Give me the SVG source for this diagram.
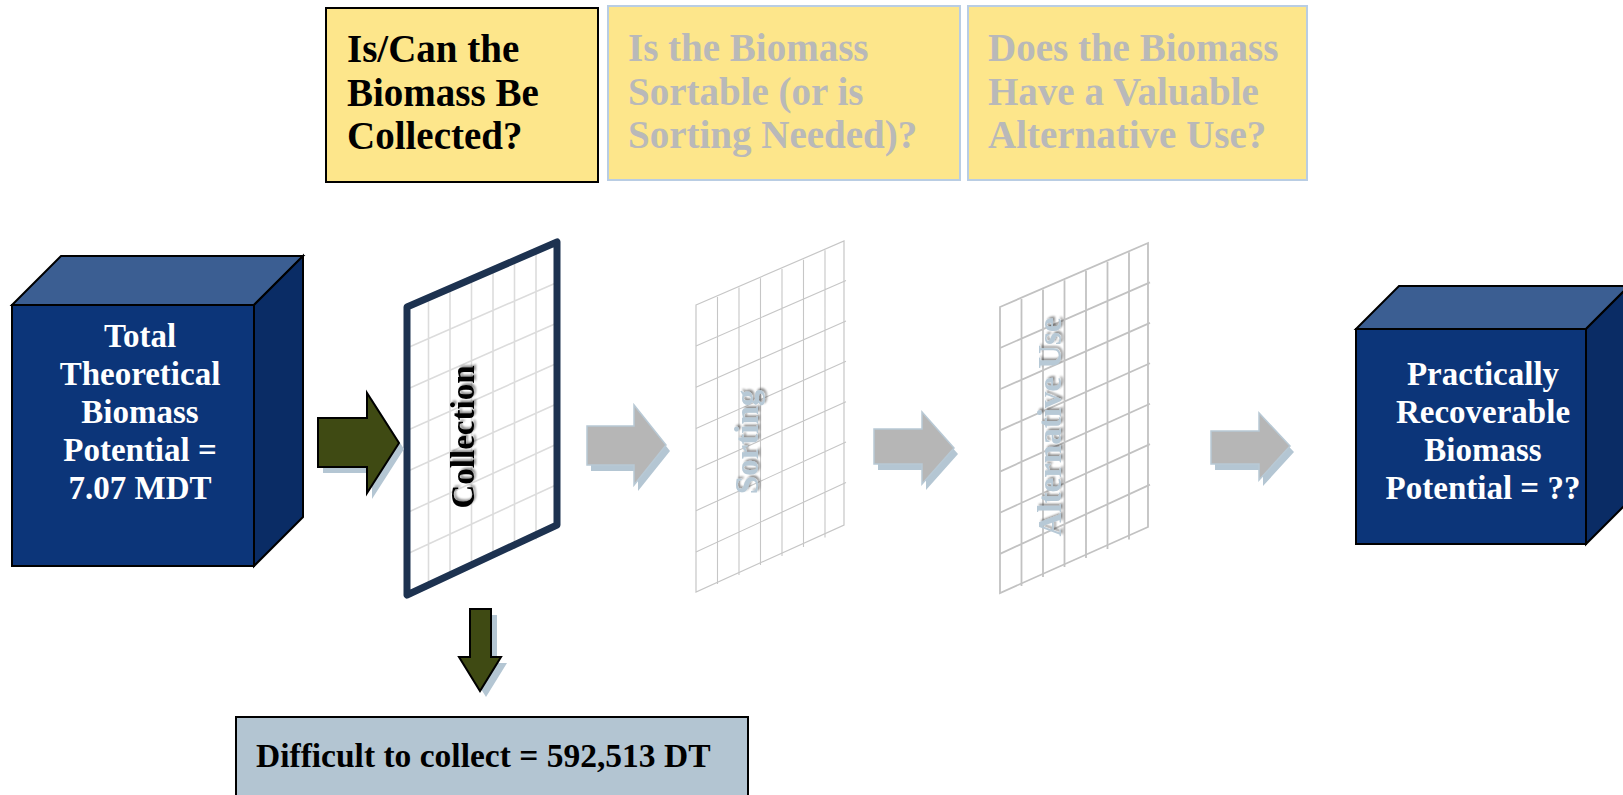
<svg xmlns="http://www.w3.org/2000/svg" width="1623" height="795" viewBox="0 0 1623 795">
  <style>
    .serif { font-family: "Liberation Serif", "Times New Roman", serif; font-weight: bold; }
    .cube-text { fill: #ffffff; font-size: 33px; text-anchor: middle; }
    .q-text { font-size: 39px; }
    .q-on { fill: #000000; }
    .q-off { fill: #b9b9b9; }
    .edge { stroke: #000000; stroke-width: 2; stroke-linejoin: miter; }
    .face-front { fill: #0c3579; }
    .face-top { fill: #3b5e92; }
    .face-side { fill: #0a2c65; }
    .grid-dark { stroke: #dcdcdc; stroke-width: 1.6; fill: none; }
    .grid-light { stroke: #c6c6c6; stroke-width: 1.1; fill: none; }
    .grid-mid { stroke: #c2c2c2; stroke-width: 1.8; fill: none; }
    .arrow-green { fill: #3f4a13; stroke: #000000; stroke-width: 2; }
    .arrow-gray { fill: #b6b6b6; stroke: #b8c9d5; stroke-width: 1.5; }
    .arrow-shadow { fill: #b4c6d3; }
    .stage-label { font-size: 33px; text-anchor: middle; }
  </style>
  <defs>
    <filter id="soft" x="-20%" y="-20%" width="140%" height="140%">
      <feGaussianBlur in="SourceAlpha" stdDeviation="1.2" result="b"/>
      <feOffset in="b" dx="1.5" dy="1.5" result="o"/>
      <feComponentTransfer in="o" result="s">
        <feFuncA type="linear" slope="0.45"/>
      </feComponentTransfer>
      <feMerge>
        <feMergeNode in="s"/>
        <feMergeNode in="SourceGraphic"/>
      </feMerge>
    </filter>
    <path id="grid-lines" d="M428.5,299 V586 M450,289.6 V577 M471.5,280.3 V567 M493,271 V558 M514.5,261.7 V549 M536,252.3 V539.6
      M407,348 L557,282.4 M407,389.3 L557,322.9 M407,430.4 L557,363.3 M407,471.6 L557,403.7 M407,512.7 L557,444.1 M407,553.9 L557,484.6"/>
  </defs>

  <!-- question boxes -->
  <g id="q-collect">
    <rect x="326" y="8" width="272" height="174" fill="#fde68b" stroke="#000000" stroke-width="2"/>
    <text class="serif q-text q-on" x="347" y="62">Is/Can the</text>
    <text class="serif q-text q-on" x="347" y="106">Biomass Be</text>
    <text class="serif q-text q-on" x="347" y="149">Collected?</text>
  </g>
  <g id="q-sort">
    <rect x="608" y="6" width="352" height="174" fill="#fde68b" stroke="#b9cde3" stroke-width="2"/>
    <text class="serif q-text q-off" x="628" y="61">Is the Biomass</text>
    <text class="serif q-text q-off" x="628" y="105">Sortable (or is</text>
    <text class="serif q-text q-off" x="628" y="148">Sorting Needed)?</text>
  </g>
  <g id="q-alt">
    <rect x="968" y="6" width="339" height="174" fill="#fde68b" stroke="#b9cde3" stroke-width="2"/>
    <text class="serif q-text q-off" x="988" y="61">Does the Biomass</text>
    <text class="serif q-text q-off" x="988" y="105">Have a Valuable</text>
    <text class="serif q-text q-off" x="988" y="148">Alternative Use?</text>
  </g>

  <!-- source cube -->
  <g id="total-cube">
    <polygon class="face-top edge" points="12,305 61,256 303,256 254,305"/>
    <polygon class="face-side edge" points="254,305 303,256 303,517 254,566"/>
    <rect class="face-front edge" x="12" y="305" width="242" height="261"/>
    <text class="serif cube-text" x="140" y="347">Total</text>
    <text class="serif cube-text" x="140" y="385">Theoretical</text>
    <text class="serif cube-text" x="140" y="423">Biomass</text>
    <text class="serif cube-text" x="140" y="461">Potential =</text>
    <text class="serif cube-text" x="140" y="499">7.07 MDT</text>
  </g>

  <!-- result cube -->
  <g id="recoverable-cube">
    <polygon class="face-top edge" points="1356,329 1399,286 1629,286 1586,329"/>
    <polygon class="face-side edge" points="1586,329 1629,286 1629,501 1586,544"/>
    <rect class="face-front edge" x="1356" y="329" width="230" height="215"/>
    <text class="serif cube-text" x="1483" y="385">Practically</text>
    <text class="serif cube-text" x="1483" y="423">Recoverable</text>
    <text class="serif cube-text" x="1483" y="461">Biomass</text>
    <text class="serif cube-text" x="1483" y="499">Potential = ??</text>
  </g>

  <!-- filter screens -->
  <g id="screen-collection">
    <polygon points="407,307 557,242 557,525 407,595" fill="#ffffff"/>
    <use href="#grid-lines" class="grid-dark"/>
    <polygon points="407,307 557,242 557,525 407,595" fill="none" stroke="#1d3250" stroke-width="7" stroke-linejoin="round"/>
    <text class="serif stage-label" transform="translate(463,437) rotate(-90)" y="11" fill="#000000" filter="url(#soft)">Collection</text>
  </g>
  <g id="screen-sorting">
    <polygon points="696,305 844,241 844,525 696,592" fill="#ffffff" stroke="#c6c6c6" stroke-width="1.2"/>
    <use href="#grid-lines" class="grid-light" transform="translate(289,-2)"/>
    <text class="serif stage-label" transform="translate(747,442) rotate(-90)" y="11" fill="#b7c9d6" filter="url(#soft)">Sorting</text>
  </g>
  <g id="screen-alternative">
    <polygon points="1000,307 1148,243 1148,527 1000,593" fill="#ffffff" stroke="#c2c2c2" stroke-width="1.8"/>
    <use href="#grid-lines" class="grid-mid" transform="translate(593,0)"/>
    <text class="serif stage-label" transform="translate(1050,427) rotate(-90)" y="11" fill="#b7c9d6" filter="url(#soft)">Alternative Use</text>
  </g>

  <!-- outcome box -->
  <g id="difficult-box">
    <rect x="236" y="717" width="512" height="90" fill="#b3c5d2" stroke="#000000" stroke-width="2"/>
    <text class="serif" x="256" y="767" font-size="33.5" fill="#000000">Difficult to collect = 592,513 DT</text>
  </g>

  <!-- connectors -->
  <g id="connectors">
    <path class="arrow-shadow" transform="translate(5,6)" d="M318,418 H367 V393 L399,443 L367,493 V467 H318 Z"/>
    <path class="arrow-green" d="M318,418 H367 V393 L399,443 L367,493 V467 H318 Z"/>

    <path class="arrow-shadow" transform="translate(6,6)" d="M470,609 H491 V657 H501 L480,691 L459,657 H470 Z"/>
    <path class="arrow-green" d="M470,609 H491 V657 H501 L480,691 L459,657 H470 Z"/>

    <path class="arrow-shadow" transform="translate(4,6)" d="M587,426 H634 V405 L666,445 L634,485 V465 H587 Z"/>
    <path class="arrow-gray" d="M587,426 H634 V405 L666,445 L634,485 V465 H587 Z"/>

    <path class="arrow-shadow" transform="translate(4,6)" d="M874,429 H922 V412 L954,448 L922,484 V464 H874 Z"/>
    <path class="arrow-gray" d="M874,429 H922 V412 L954,448 L922,484 V464 H874 Z"/>

    <path class="arrow-shadow" transform="translate(4,6)" d="M1211,431 H1259 V413 L1290,446 L1259,480 V464 H1211 Z"/>
    <path class="arrow-gray" d="M1211,431 H1259 V413 L1290,446 L1259,480 V464 H1211 Z"/>
  </g>
</svg>
